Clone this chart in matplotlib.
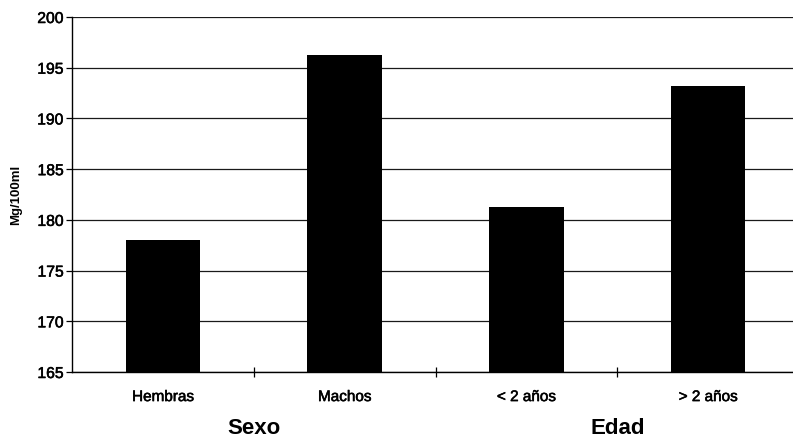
import matplotlib
matplotlib.use("Agg")
import matplotlib.pyplot as plt
import matplotlib.patheffects as pe

# ── Дані ──────────────────────────────────────────────────────────────────
categories = ["Hembras", "Machos", "< 2 años", "> 2 años"]
values = [178.0, 196.3, 181.3, 193.2]
groups = ["Sexo", "Edad"]
group_pos = [0.5, 2.5]
y_ticks = [165, 170, 175, 180, 185, 190, 195, 200]

plt.rcParams['font.family'] = ['Liberation Sans', 'DejaVu Sans']

fig = plt.figure(figsize=(7.93, 4.44), dpi=100)
fig.patch.set_facecolor('white')

# вісь трохи виходить за правий край, як у скані
ax = fig.add_axes([72 / 793, 1 - 372 / 444, 727 / 793, 355 / 444])
ax.set_facecolor('white')

x = range(len(categories))
ax.bar(x, values, width=0.41, bottom=0, color='black', zorder=3)

ax.set_xlim(-0.5, 3.5)
ax.set_ylim(165, 200)
ax.set_yticks(y_ticks)
ax.set_yticklabels([str(v) for v in y_ticks], fontsize=11.3)

ax.grid(axis='y', color='#1a1a1a', linewidth=0.9, zorder=1)
ax.grid(axis='x', visible=False)

# мітки категорій без рисок, риски — між групами
ax.set_xticks(list(x))
ax.set_xticklabels(categories, fontsize=11)
ax.tick_params(axis='x', which='major', length=0, pad=13)
ax.set_xticks([0.5, 1.5, 2.5], minor=True)
ax.tick_params(axis='x', which='minor', length=7, direction='inout',
               width=0.9, color='black')
ax.tick_params(axis='y', length=4, width=0.9, pad=2, direction='out')

# трохи «жирніший» шрифт, як у скані
thick = [pe.withStroke(linewidth=0.4, foreground='black')]
for lbl in ax.get_xticklabels() + ax.get_yticklabels():
    lbl.set_path_effects(thick)

for side in ['top', 'right']:
    ax.spines[side].set_visible(False)
ax.spines['left'].set_linewidth(1.0)
ax.spines['bottom'].set_linewidth(1.0)
ax.spines['left'].set_zorder(4)
ax.spines['bottom'].set_zorder(4)

ax.set_ylabel("Mg/100ml", fontsize=9.5, fontweight='bold')
ax.yaxis.set_label_coords(-50 / 727, 0.5)

for g, p in zip(groups, group_pos):
    ax.text(p, -0.158, g, transform=ax.get_xaxis_transform(),
            ha='center', va='center', fontsize=16, fontweight='bold')

fig.savefig("out.png", dpi=100, facecolor='white')
